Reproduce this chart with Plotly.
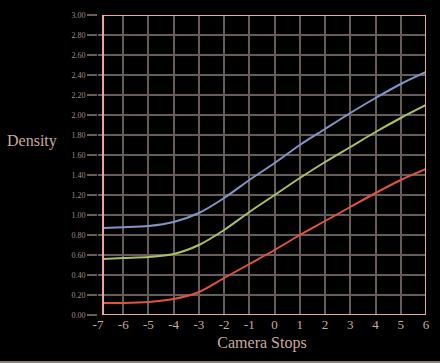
import plotly.graph_objects as go

stops = [-6.8, -6, -5, -4, -3, -2, -1, 0, 1, 2, 3, 4, 5, 6]
blue = [0.87, 0.877, 0.89, 0.93, 1.02, 1.17, 1.35, 1.52, 1.70, 1.86, 2.02, 2.17, 2.31, 2.43]
green = [0.56, 0.57, 0.58, 0.61, 0.70, 0.85, 1.03, 1.20, 1.37, 1.53, 1.68, 1.83, 1.97, 2.10]
red = [0.12, 0.12, 0.13, 0.16, 0.23, 0.37, 0.51, 0.65, 0.80, 0.94, 1.08, 1.22, 1.35, 1.46]

x_ticks = list(range(-7, 7))
y_ticks = [round(i * 0.2, 2) for i in range(16)]
y_labels = [f"{v:.2f}" for v in y_ticks]

fig = go.Figure()
for vals, col in [(blue, "#8393c4"), (green, "#a9c062"), (red, "#e2533f")]:
    fig.add_trace(go.Scatter(x=stops, y=vals, mode="lines",
                             line=dict(color=col, width=2, shape="spline", smoothing=0.8),
                             hoverinfo="skip", showlegend=False))

serif = "Liberation Serif, DejaVu Serif, serif"
fig.update_layout(
    width=440, height=363,
    margin=dict(l=98, r=10, t=15, b=48),
    paper_bgcolor="#000000", plot_bgcolor="#000000",
    showlegend=False,
    xaxis=dict(range=[-7, 6], tickvals=x_ticks, ticktext=[str(v) for v in x_ticks],
               showgrid=True, gridcolor="#665c5a", gridwidth=1.5,
               zeroline=False, showline=False, ticks="",
               tickfont=dict(family=serif, size=13, color="#c9aaa2"),
               title=dict(text="Camera Stops", font=dict(family=serif, size=16, color="#c9aaa2"),
                          standoff=5)),
    yaxis=dict(range=[0, 3], tickvals=y_ticks, ticktext=y_labels,
               showgrid=True, gridcolor="#665c5a", gridwidth=1.5,
               zeroline=False, showline=False, ticks="outside", ticklen=10,
               tickcolor="#665c5a", tickwidth=1.5,
               tickfont=dict(family=serif, size=8, color="#a08a86")),
)
# Plot border
fig.add_shape(type="rect", xref="x", yref="y", x0=-6.8, x1=6, y0=0, y1=3,
              line=dict(color="#e6ab9c", width=2), layer="above")
# Bottom strip of the image frame
fig.add_shape(type="rect", xref="paper", yref="paper", x0=-1, x1=2,
              y0=-48/300, y1=-46/300, fillcolor="#8a7c7c", line=dict(width=0))
fig.add_annotation(text="Density", xref="paper", yref="paper", x=-0.2, y=0.58,
                   xanchor="center", yanchor="middle", showarrow=False,
                   font=dict(family=serif, size=16, color="#c9aaa2"))
fig.write_html("out.html", config={"displayModeBar": False},
               post_script="document.body.style.margin='0';document.body.style.background='#000';")
